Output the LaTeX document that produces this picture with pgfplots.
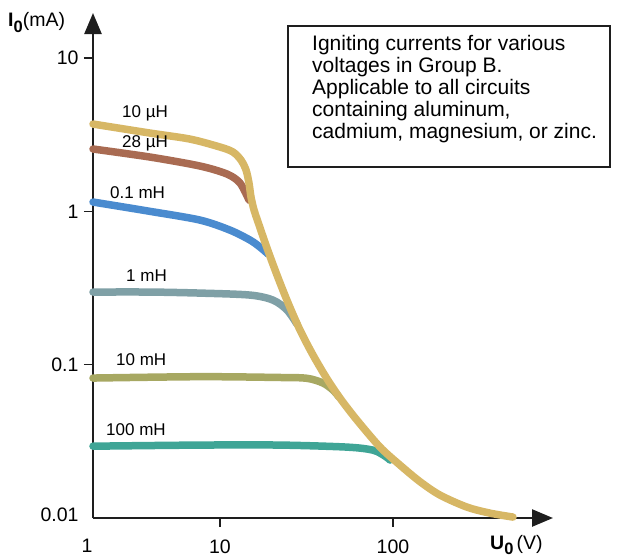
\documentclass[border=0pt]{standalone}
\usepackage{pgfplots}
\pgfplotsset{compat=1.18}
\usepackage{fontspec}
\setmainfont{Liberation Sans}
\usetikzlibrary{arrows.meta}
\definecolor{cyel}{HTML}{D7B765}
\definecolor{cbrown}{HTML}{A96B52}
\definecolor{cblue}{HTML}{4A8BCF}
\definecolor{cgrey}{HTML}{7FA0A6}
\definecolor{colive}{HTML}{A7A862}
\definecolor{cteal}{HTML}{3FA596}
\definecolor{cax}{HTML}{1E1E1E}
\begin{document}
\begin{tikzpicture}
\path[use as bounding box] (-93pt,-40pt) rectangle (526pt,518pt);
\begin{axis}[
  at={(0pt,0pt)}, anchor=south west,
  scale only axis, width=460pt, height=505pt,
  x coord trafo/.code={\pgfmathparse{ifthenelse(#1<=10,127*log10(#1),127+173*(log10(#1)-1))}},
  ymode=log,
  xmin=1, xmax=841.3, ymin=0.01, ymax=19.66,
  enlargelimits=false,
  axis lines=left,
  axis line style={line width=2.5pt, cax},
  x axis line style={-{Triangle[length=21pt,width=17pt]}},
  y axis line style={-{Triangle[length=21pt,width=17pt]}},
  tick align=outside,
  major tick length=9pt,
  minor tick length=0pt,
  minor tick style={draw=none},
  tick style={line width=1.5pt, cax},
  xtick={10,100}, xticklabels={10,100},
  ytick={0.1,1,10}, yticklabels={0.1,1,10},
  extra x ticks={1}, extra x tick labels={1},
  extra y ticks={0.01}, extra y tick labels={0.01},
  extra x tick style={tick style={draw=none}, xticklabel style={xshift=-6pt}},
  extra y tick style={tick style={draw=none}, yticklabel style={yshift=3pt}},
  tick label style={font=\fontsize{19.5}{23}\selectfont},
  xticklabel style={yshift=-9pt},
  yticklabel style={xshift=-2pt},
  clip=false,
]
\addplot[cteal, line width=7.5pt, smooth, line cap=round] coordinates {
(1,0.0294) (6.96,0.0299) (22.2,0.0299) (54.2,0.0290) (76.6,0.0277) (89.9,0.02535) (96.1,0.02387)};
\addplot[colive, line width=7.5pt, smooth, line cap=round] coordinates {
(1,0.0818) (6.96,0.0835) (22.2,0.0825) (31.8,0.0815) (39.4,0.0759) (45.0,0.0683) (48.75,0.0615)};
\addplot[cgrey, line width=7.5pt, smooth, line cap=round] coordinates {
(1,0.2976) (2.81,0.2976) (6.96,0.293) (14.9,0.2844) (20.25,0.2638) (24.4,0.2272) (27.86,0.184)};
\addplot[cblue, line width=7.5pt, smooth, line cap=round] coordinates {
(1,1.15) (2.81,1.00) (6.96,0.877) (11.4,0.755) (14.9,0.650) (17.02,0.585) (18.95,0.527)};
\addplot[cbrown, line width=7.5pt, smooth, line cap=round] coordinates {
(1,2.55) (2.81,2.26) (6.96,1.975) (10.98,1.751) (13.05,1.53) (14.71,1.185)};
\addplot[cyel, line width=7.5pt, smooth, line cap=round] coordinates {
(1,3.71) (2.81,3.24) (5.8,2.96) (10,2.627) (11.89,2.437) (13.22,2.161) (14.14,1.860) (14.71,1.530) (15.11,1.240) (15.73,1.020) (16.59,0.852) (18.7,0.576) (21.3,0.387) (24.7,0.2541) (29.0,0.1683) (34.5,0.1155) (41.5,0.0811) (49.4,0.0605) (61.9,0.0435) (84.2,0.0290) (109.8,0.02213) (143.2,0.01727) (186.9,0.01411) (267.7,0.01178) (363.7,0.01076) (494,0.01014)};
\end{axis}
\begin{scope}[font=\fontsize{17}{20}\selectfont]
\node[anchor=west, inner sep=0] at (29pt,405pt) {10 µH};
\node[anchor=west, inner sep=0] at (29pt,375pt) {28 µH};
\node[anchor=west, inner sep=0] at (17pt,325pt) {0.1 mH};
\node[anchor=west, inner sep=0] at (33pt,242pt) {1 mH};
\node[anchor=west, inner sep=0] at (23pt,158pt) {10 mH};
\node[anchor=west, inner sep=0] at (13pt,88pt) {100 mH};
\end{scope}
\draw[line width=1.5pt, cax] (195pt,351pt) rectangle (517pt,492pt);
\node[anchor=north west, align=left, inner sep=0, font=\fontsize{21}{22}\selectfont] at (219pt,482.5pt)
{Igniting currents for various\\voltages in Group B.\\Applicable to all circuits\\containing aluminum,\\cadmium, magnesium, or zinc.};
\node[anchor=base west, inner sep=0, font=\fontsize{19.5}{24}\selectfont] at (-85pt,491pt)
{\textbf{I}\raisebox{-0.3em}{\fontsize{16.5}{16}\selectfont\bfseries 0}(mA)};
\node[anchor=base west, inner sep=0, font=\fontsize{19.5}{24}\selectfont] at (397pt,-31.5pt)
{\textbf{U}\raisebox{-0.25em}{\fontsize{16.5}{16}\selectfont\bfseries 0}\,(V)};
\end{tikzpicture}
\end{document}
